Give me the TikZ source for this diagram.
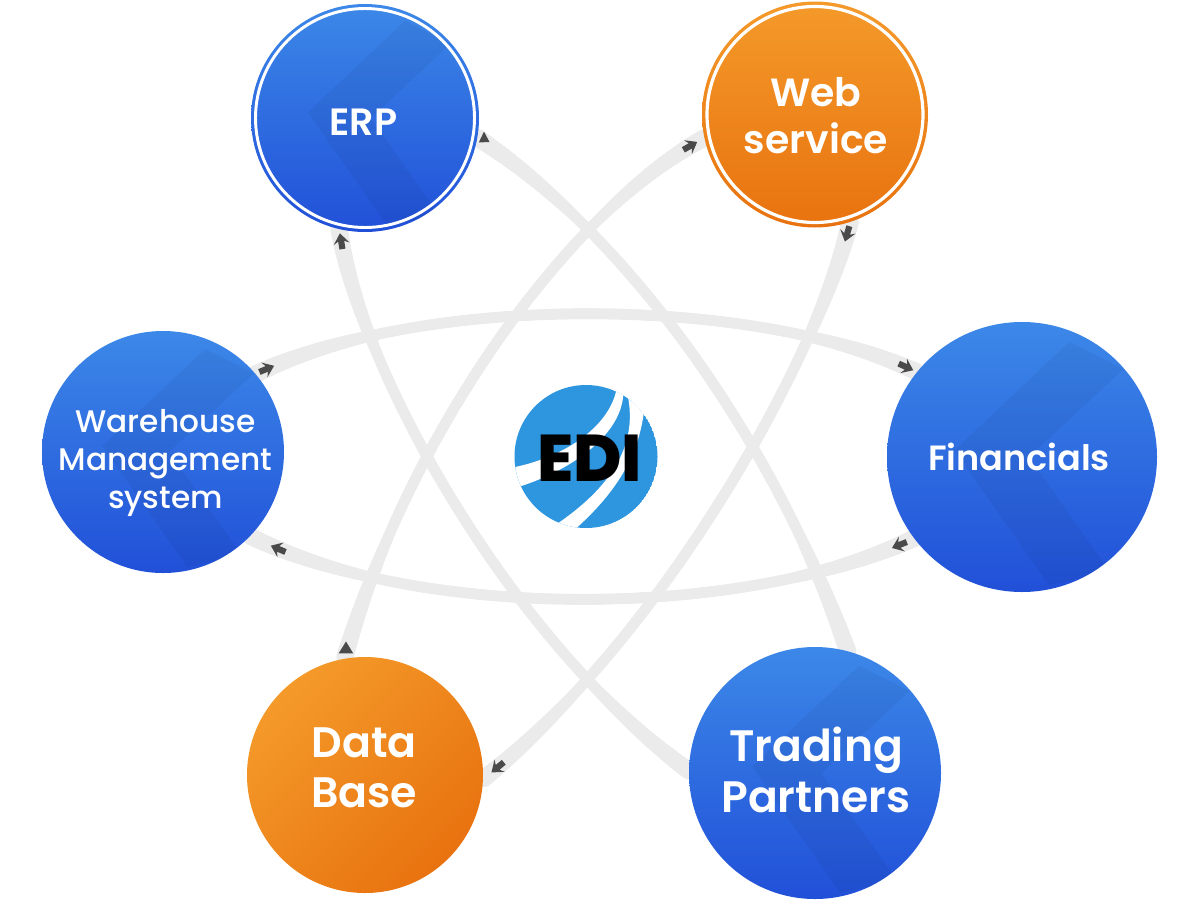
\documentclass[tikz,border=0pt]{standalone}
\usepackage{fontspec}
\setmainfont{Poppins}
\newfontfamily\popmed{Poppins Medium}
\newfontfamily\popsemi{Poppins SemiBold}
\newfontfamily\edifont{Poppins ExtraBold}
\usetikzlibrary{decorations.markings,backgrounds}
\definecolor{bandc}{HTML}{EBEBEB}
\definecolor{tipc}{HTML}{4A4A4A}
\definecolor{ediblue}{HTML}{2D96DF}
\definecolor{blue1}{HTML}{3C88E8}
\definecolor{blue2}{HTML}{2150D8}
\definecolor{org1}{HTML}{F49A2A}
\definecolor{org2}{HTML}{E8720F}
\newcommand\tipfwd{\fill[tipc] (0pt,0pt)--(-8pt,6pt)--(-6pt,2.3pt)--(-12pt,2.3pt)--(-12pt,-2.3pt)--(-6pt,-2.3pt)--(-8pt,-6pt)--cycle;}
\newcommand\tiprev{\begin{scope}[rotate=180]\tipfwd\end{scope}}
\newcommand\tritip[3]{\begin{scope}[rotate=#1]\fill[tipc] (#2,0pt)--(0pt,#3)--(0pt,-#3)--cycle;\end{scope}}
\tikzset{
  band/.style={draw=bandc,line width=8pt,
    postaction={decoration={markings,mark=between positions 0 and 1 step 1.5pt with {%
      \pgfmathsetmacro{\ds}{\pgfkeysvalueof{/pgf/decoration/mark info/distance from start}}%
      \pgfmathsetmacro{\de}{\pgfdecoratedpathlength-\ds}%
      \pgfmathsetmacro{\rr}{4+2.6*max(0,1-min(\ds,\de)/100)}%
      \fill[bandc] (0pt,0pt) circle[radius=\rr pt];}},decorate},
    postaction={decoration={markings,#1},decorate}},
  disc/.style={circle,inner sep=0pt,draw=none,minimum size=#1*1.5pt},
  bluedisc/.style={disc=#1,top color=blue1,bottom color=blue2,
    path picture={\begin{scope}[shift={(path picture bounding box.center)},x=#1*.0075pt,y=-#1*.0075pt]
      \fill[black,opacity=.045] (-50,-5)--(35,-85)--(75,-65)--(5,0)--(65,85)--(20,95)--cycle;
    \end{scope}}},
  orgdisc/.style={disc=#1,top color=org1,bottom color=org2},
  lbl/.style={text=white,align=center,inner sep=0pt},
}
\begin{document}
\begin{tikzpicture}[x=.75pt,y=-.75pt]
\useasboundingbox (0,0) rectangle (1200,900);
% discs
\node[bluedisc=114] (erp) at (365,118) {};
\draw[white,line width=2.2pt] (365,118) circle[radius=109.5];
\node[orgdisc=113] (web) at (815,114.5) {};
\draw[white,line width=2.4pt] (815,114.5) circle[radius=108];
\node[bluedisc=135] (fin) at (1022,457) {};
\node[bluedisc=126] (trd) at (815,773) {};
\node[orgdisc=118,shading angle=45] (dbs) at (365,775) {};
\node[bluedisc=121] (wms) at (163,452) {};
% labels
\node[lbl,font=\popsemi\fontsize{28.5}{32}\selectfont] (erpL) at (363.5,122) {ERP};
\node[lbl,font=\popsemi\fontsize{29.5}{35.25}\selectfont] (webL) at (816,116) {Web\\service};
\node[lbl,font=\popsemi\fontsize{26.3}{30}\selectfont] (finL) at (1019,457) {Financials};
\node[lbl,font=\popsemi\fontsize{33}{38.5}\selectfont] (trdL) at (816,770) {Trading\\Partners};
\node[lbl,font=\popsemi\fontsize{32}{37.5}\selectfont] (dbsL) at (364,768) {Data\\Base};
\node[lbl,font=\popmed\fontsize{23.4}{28.5}\selectfont] (wmsL) at (165.5,463) {Warehouse\\Management\\system};
% EDI logo
\begin{scope}
\clip (586,456.5) circle[radius=71.5];
\fill[ediblue] (586,456.5) circle[radius=71.5];
\fill[white] (510,468) .. controls (565,458) and (612,425) .. (617,386)
  -- (623,386) .. controls (628,430) and (575,470) .. (515,488) -- cycle;
\fill[white] (554,526) .. controls (600,495) and (645,450) .. (625,385)
  -- (645,400) .. controls (642,450) and (620,490) .. (572,532) -- cycle;
\end{scope}
\node[inner sep=0pt,text=black,font=\edifont\fontsize{49.5}{49.5}\selectfont] (edi) at (589.5,458) {EDI};
% connectors
\begin{scope}[on background layer]
\fill[white] (0,0) rectangle (1200,900);
\path[band={mark=at position 6pt with {\tritip{125}{8pt}{4pt}}}] (erp.-10) .. controls (620,230) and (770,430) .. (trd.75);
\path[band={mark=at position 3pt with {\tiprev}}] (erp.-103) .. controls (360,370) and (510,640) .. (trd.179);
\path[band={mark=at position 6pt with {\tiprev},mark=at position -4pt with {\tritip{196}{9pt}{5.5pt}}}] (web.192) .. controls (570,210) and (410,430) .. (dbs.100);
\path[band={mark=at position 15pt with {\tipfwd},mark=at position -8pt with {\tipfwd}}] (web.-72) .. controls (820,350) and (670,630) .. (dbs.-2);
\path[band={mark=at position 15pt with {\tipfwd},mark=at position -3pt with {\tipfwd}}] (wms.40) .. controls (420,294) and (750,294) .. (fin.141);
\path[band={mark=at position 18pt with {\tipfwd},mark=at position -17pt with {\tipfwd}}] (fin.217) .. controls (740,620) and (420,620) .. (wms.-44);
\end{scope}
\end{tikzpicture}
\end{document}
